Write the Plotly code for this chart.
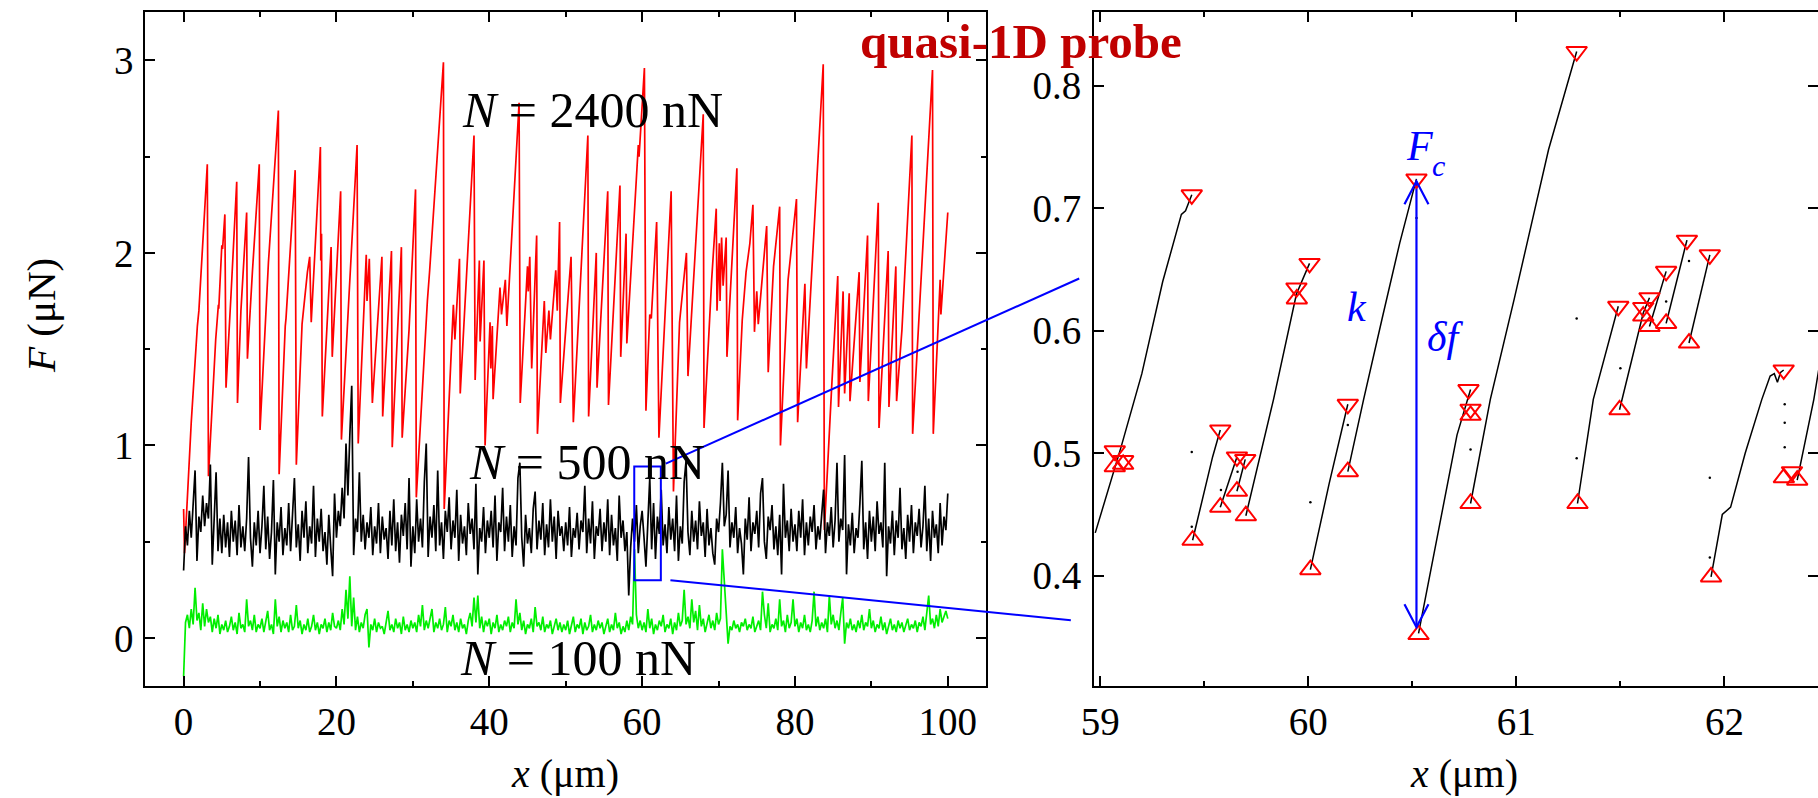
import numpy as np
import plotly.graph_objects as go

# ---------------- data ----------------
# N = 2400 nN : stick-slip sawtooth, (x [um], F [uN]) vertices
red_vertices = [
    (0.0, 0.67), (0.12, 0.44), (1.0, 1.12), (1.7, 1.60), (1.8, 1.62), (2.0, 1.70), (2.6, 2.10),
    (3.1, 2.46), (3.25, 0.84), (4.2, 1.55), (4.55, 1.73), (4.6, 1.71), (5.0, 2.04), (5.1, 2.02),
    (5.4, 2.20), (5.55, 1.30), (6.2, 1.78), (6.95, 2.37), (7.05, 1.22), (7.5, 1.70), (8.25, 2.21),
    (8.35, 1.45), (9.0, 1.90), (9.9, 2.46), (10.0, 1.08), (10.6, 1.60), (11.0, 1.89), (11.1, 1.95),
    (12.4, 2.74), (12.5, 0.85), (13.3, 1.62), (13.4, 1.66), (14.6, 2.43), (14.75, 0.90), (15.5, 1.63),
    (15.9, 1.80), (16.2, 1.90), (16.5, 1.98), (16.7, 1.64), (17.9, 2.55), (17.95, 1.96), (18.05, 2.10),
    (18.15, 1.15), (19.3, 2.03), (19.45, 1.46), (20.55, 2.32), (20.65, 1.03), (21.7, 1.82), (22.7, 2.56),
    (22.85, 1.01), (23.5, 1.65), (23.9, 1.99), (24.0, 1.75), (24.3, 1.97), (24.7, 1.22), (25.95, 1.98),
    (26.05, 1.15), (27.2, 2.01), (27.3, 0.99), (28.5, 2.03), (28.6, 1.04), (29.5, 1.60), (30.35, 2.33),
    (30.45, 0.73), (31.9, 1.75), (32.2, 1.91), (34.0, 2.99), (34.1, 0.67), (35.3, 1.73), (35.5, 1.55),
    (36.1, 1.97), (36.2, 1.27), (38.0, 2.61), (38.15, 1.34), (38.7, 1.96), (38.8, 1.54), (39.3, 1.96),
    (39.45, 1.00), (40.1, 1.64), (40.2, 1.40), (40.4, 1.62), (40.5, 1.24), (41.4, 1.82), (41.6, 1.68),
    (42.1, 1.86), (42.3, 1.62), (43.9, 2.78), (44.05, 1.22), (45.0, 1.93), (45.1, 1.80), (45.3, 1.98),
    (45.55, 1.40), (46.2, 2.09), (46.3, 1.06), (47.2, 1.75), (47.4, 1.48), (47.8, 1.70), (48.0, 1.55),
    (48.7, 1.91), (48.9, 1.70), (49.2, 2.16), (49.3, 1.22), (50.0, 1.60), (50.7, 1.98), (51.0, 1.12),
    (52.9, 2.61), (53.0, 1.15), (54.0, 2.00), (54.1, 1.30), (55.5, 2.32), (55.6, 1.21), (57.1, 2.35),
    (57.2, 1.46), (57.9, 2.10), (58.0, 1.53), (59.3, 2.39), (59.5, 2.56), (59.6, 2.50), (60.3, 2.96),
    (60.5, 1.18), (61.0, 1.68), (61.2, 1.66), (61.9, 2.16), (62.2, 1.04), (63.2, 1.86), (63.8, 2.32),
    (64.1, 0.76), (64.9, 1.64), (65.8, 2.00), (66.0, 1.36), (68.0, 2.72), (68.1, 1.09), (69.1, 1.86),
    (69.7, 2.23), (69.8, 1.70), (70.1, 2.05), (70.2, 1.75), (70.4, 2.08), (70.6, 1.83), (71.0, 2.08),
    (71.1, 1.46), (72.4, 2.44), (72.5, 1.13), (73.1, 1.65), (73.6, 1.90), (74.1, 2.05), (74.5, 2.25),
    (74.7, 1.59), (75.0, 1.80), (75.2, 1.63), (76.3, 2.14), (76.5, 1.38), (77.2, 1.93), (78.0, 2.24),
    (78.1, 1.00), (79.1, 1.86), (80.2, 2.28), (80.35, 1.12), (81.3, 1.84), (81.5, 1.40), (83.7, 2.98),
    (83.85, 0.56), (84.8, 1.30), (85.6, 1.88), (85.7, 1.20), (86.3, 1.80), (86.5, 1.27), (87.1, 1.79),
    (87.2, 1.23), (88.4, 1.90), (88.5, 1.33), (89.5, 2.09), (89.6, 1.23), (90.9, 2.26), (91.0, 1.09),
    (92.2, 2.01), (92.3, 1.20), (93.2, 1.93), (93.3, 1.23), (94.0, 1.60), (95.3, 2.61), (95.4, 1.06),
    (98.0, 2.95), (98.1, 1.06), (99.0, 1.86), (99.1, 1.68), (100.0, 2.21),
]

# N = 500 nN : F sampled every 0.25 um over 0..100 um
black_f = [
    0.35, 0.58, 0.48, 0.66, 0.52, 0.70, 0.87, 0.40, 0.63, 0.55, 0.74, 0.58, 0.70, 0.62, 0.90, 0.38, 0.66, 0.86, 0.45, 0.62,
    0.44, 0.64, 0.47, 0.60, 0.42, 0.66, 0.50, 0.61, 0.43, 0.69, 0.47, 0.58, 0.45, 0.62, 0.94, 0.52, 0.37, 0.60, 0.48, 0.66,
    0.44, 0.58, 0.79, 0.46, 0.63, 0.41, 0.55, 0.82, 0.33, 0.60, 0.50, 0.68, 0.43, 0.57, 0.48, 0.70, 0.45, 0.62, 0.83, 0.47,
    0.59, 0.40, 0.66, 0.52, 0.71, 0.44, 0.58, 0.49, 0.79, 0.42, 0.62, 0.50, 0.67, 0.45, 0.55, 0.38, 0.64, 0.47, 0.32, 0.75,
    0.52, 0.66, 0.58, 0.78, 0.62, 1.01, 0.74, 1.05, 1.31, 0.43, 0.62, 0.55, 0.86, 0.50, 0.64, 0.46, 0.60, 0.52, 0.68, 0.43,
    0.58, 0.49, 0.70, 0.44, 0.63, 0.51, 0.57, 0.41, 0.66, 0.48, 0.72, 0.45, 0.60, 0.39, 0.64, 0.53, 0.70, 0.46, 0.83, 0.37,
    0.58, 0.44, 0.72, 0.50, 0.62, 0.47, 0.81, 1.01, 0.42, 0.63, 0.52, 0.69, 0.45, 0.87, 0.48, 0.60, 0.41, 0.66, 0.55, 0.73,
    0.46, 0.61, 0.52, 0.77, 0.40, 0.64, 0.49, 0.58, 0.43, 0.70, 0.54, 0.62, 0.46, 0.80, 0.33, 0.57, 0.50, 0.68, 0.44, 0.61,
    0.52, 0.66, 0.47, 0.74, 0.40, 0.60, 0.55, 0.78, 0.45, 0.63, 0.50, 0.69, 0.42, 0.58, 0.48, 0.83, 0.91, 0.52, 0.37, 0.64,
    0.49, 0.57, 0.44, 0.67, 0.76, 0.46, 0.61, 0.51, 0.70, 0.43, 0.59, 0.47, 0.72, 0.50, 0.63, 0.41, 0.66, 0.53, 0.58, 0.45,
    0.60, 0.48, 0.68, 0.42, 0.57, 0.52, 0.65, 0.46, 0.61, 0.55, 0.79, 0.44, 0.62, 0.49, 0.71, 0.41, 0.58, 0.53, 0.67, 0.45,
    0.60, 0.50, 0.72, 0.43, 0.64, 0.48, 0.57, 0.40, 0.74, 0.52, 0.61, 0.45, 0.55, 0.22, 0.47, 0.62, 0.50, 0.69, 0.44, 0.58,
    0.66, 0.52, 0.37, 0.60, 0.83, 0.46, 0.70, 0.41, 0.63, 0.54, 0.77, 0.48, 0.59, 0.44, 0.68, 0.51, 0.62, 0.45, 0.74, 0.40,
    0.58, 0.49, 0.81, 0.92, 0.55, 0.43, 0.66, 0.50, 0.61, 0.46, 0.71, 0.53, 0.60, 0.42, 0.67, 0.48, 0.57, 0.44, 0.38, 0.62,
    0.55, 0.70, 0.91, 0.58, 0.64, 0.87, 0.47, 0.60, 0.52, 0.68, 0.44, 0.57, 0.49, 0.33, 0.62, 0.51, 0.73, 0.45, 0.60, 0.54,
    0.66, 0.47, 0.75, 0.83, 0.50, 0.41, 0.63, 0.56, 0.69, 0.46, 0.58, 0.43, 0.64, 0.33, 0.80, 0.52, 0.61, 0.45, 0.67, 0.50,
    0.59, 0.45, 0.66, 0.52, 0.72, 0.43, 0.60, 0.48, 0.63, 0.55, 0.69, 0.46, 0.58, 0.51, 0.64, 0.77, 0.44, 0.60, 0.53, 0.68,
    0.47, 0.61, 0.91, 0.50, 0.62, 0.56, 0.95, 0.33, 0.59, 0.48, 0.65, 0.44, 0.57, 0.52, 0.70, 0.92, 0.46, 0.60, 0.41, 0.66,
    0.50, 0.63, 0.45, 0.71, 0.54, 0.60, 0.47, 0.91, 0.32, 0.58, 0.49, 0.66, 0.43, 0.61, 0.52, 0.78, 0.46, 0.57, 0.41, 0.64,
    0.50, 0.69, 0.44, 0.60, 0.53, 0.67, 0.47, 0.58, 0.79, 0.45, 0.62, 0.40, 0.66, 0.52, 0.59, 0.44, 0.70, 0.48, 0.63, 0.56,
    0.75,
]

# N = 100 nN : F sampled every 0.25 um over 0..100 um
green_f = [
    -0.20, 0.08, 0.12, 0.05, 0.15, 0.07, 0.26, 0.09, 0.13, 0.04, 0.18, 0.06, 0.15, 0.08, 0.11, 0.03, 0.10, 0.05, 0.12, 0.02,
    0.07, 0.04, 0.09, 0.03, 0.06, 0.11, 0.04, 0.08, 0.02, 0.13, 0.05, 0.07, 0.03, 0.20, 0.06, 0.09, 0.04, 0.12, 0.03, 0.07,
    0.05, 0.10, 0.03, 0.08, 0.14, 0.04, 0.07, 0.02, 0.20, 0.06, 0.11, 0.03, 0.09, 0.05, 0.08, 0.03, 0.12, 0.04, 0.06, 0.17,
    0.05, 0.09, 0.02, 0.07, 0.04, 0.10, 0.03, 0.06, 0.12, 0.04, 0.08, 0.02, 0.07, 0.05, 0.10, 0.03, 0.08, 0.04, 0.13, 0.06,
    0.05, 0.09, 0.04, 0.15, 0.07, 0.25, 0.10, 0.32, 0.06, 0.21, 0.04, 0.11, 0.03, 0.08, 0.05, 0.12, 0.15, -0.05, 0.07, 0.04,
    0.10, 0.03, 0.08, 0.05, 0.06, 0.02, 0.09, 0.14, 0.04, 0.07, 0.03, 0.10, 0.05, 0.08, 0.02, 0.11, 0.04, 0.07, 0.03, 0.09,
    0.05, 0.08, 0.03, 0.12, 0.06, 0.17, 0.04, 0.09, 0.05, 0.11, 0.15, 0.03, 0.08, 0.05, 0.10, 0.04, 0.07, 0.16, 0.03, 0.09,
    0.06, 0.12, 0.04, 0.08, 0.03, 0.10, 0.05, 0.07, 0.02, 0.09, 0.13, 0.06, 0.21, 0.08, 0.22, 0.05, 0.11, 0.03, 0.09, 0.06,
    0.10, 0.02, 0.08, 0.05, 0.12, 0.03, 0.07, 0.04, 0.09, 0.06, 0.11, 0.03, 0.08, 0.05, 0.20, 0.07, 0.13, 0.04, 0.09, 0.02,
    0.07, 0.05, 0.10, 0.03, 0.16, 0.06, 0.08, 0.04, 0.11, 0.03, 0.07, 0.05, 0.09, 0.02, 0.06, 0.10, 0.04, 0.08, 0.03, 0.07,
    0.04, 0.09, 0.02, 0.06, 0.11, 0.03, 0.07, 0.05, 0.10, 0.02, 0.08, 0.04, 0.06, 0.12, 0.03, 0.07, 0.04, 0.09, 0.05, 0.08,
    0.02, 0.06, 0.10, 0.03, 0.07, 0.04, 0.13, 0.05, 0.08, 0.02, 0.06, 0.03, 0.09, 0.04, 0.11, 0.07, 0.46, 0.12, 0.05, 0.09,
    0.04, 0.08, 0.03, 0.15, 0.05, 0.10, 0.02, 0.07, 0.04, 0.09, 0.06, 0.12, 0.03, 0.07, 0.05, 0.10, 0.02, 0.08, 0.04, 0.13,
    0.06, 0.09, 0.25, 0.07, 0.11, 0.05, 0.20, 0.08, 0.14, 0.04, 0.17, 0.06, 0.10, 0.03, 0.08, 0.12, 0.05, 0.09, 0.04, 0.13,
    0.07, 0.10, 0.46, 0.29, 0.08, -0.03, 0.06, 0.04, 0.09, 0.05, 0.07, 0.03, 0.08, 0.06, 0.10, 0.04, 0.07, 0.05, 0.11, 0.03,
    0.06, 0.09, 0.04, 0.24, 0.12, 0.05, 0.18, 0.03, 0.07, 0.05, 0.10, 0.04, 0.20, 0.06, 0.09, 0.03, 0.12, 0.05, 0.08, 0.20,
    0.06, 0.10, 0.03, 0.08, 0.05, 0.12, 0.04, 0.07, 0.03, 0.09, 0.24, 0.06, 0.11, 0.04, 0.08, 0.05, 0.10, 0.03, 0.22, 0.07,
    0.12, 0.05, 0.09, 0.04, 0.13, 0.21, -0.03, 0.08, 0.05, 0.10, 0.04, 0.07, 0.03, 0.09, 0.05, 0.12, 0.04, 0.08, 0.06, 0.15,
    0.05, 0.09, 0.03, 0.07, 0.05, 0.11, 0.04, 0.08, 0.02, 0.06, 0.10, 0.04, 0.07, 0.03, 0.09, 0.05, 0.08, 0.03, 0.06, 0.10,
    0.04, 0.07, 0.05, 0.09, 0.03, 0.08, 0.06, 0.11, 0.04, 0.13, 0.22, 0.07, 0.10, 0.05, 0.12, 0.06, 0.15, 0.08, 0.11, 0.14,
    0.10,
]

# quasi-1D probe, zoomed window: loading branches between slip events
stick_branches = [
    [(58.976, 0.435), (59.1, 0.505), (59.2, 0.565), (59.3, 0.64), (59.39, 0.695), (59.41, 0.698), (59.44, 0.711)],
    [(59.444, 0.429), (59.49, 0.462), (59.54, 0.497), (59.577, 0.519)],
    [(59.577, 0.456), (59.657, 0.497)],
    [(59.657, 0.469), (59.697, 0.495)],
    [(59.70, 0.449), (59.833, 0.544), (59.943, 0.630), (60.006, 0.655)],
    [(60.01, 0.405), (60.1, 0.475), (60.19, 0.54)],
    [(60.19, 0.485), (60.266, 0.544), (60.355, 0.61), (60.44, 0.672), (60.52, 0.724)],
    [(60.53, 0.353), (60.635, 0.445), (60.715, 0.515), (60.78, 0.552)],
    [(60.78, 0.459), (60.875, 0.544), (60.99, 0.626), (61.155, 0.748), (61.29, 0.828)],
    [(61.294, 0.459), (61.37, 0.544), (61.49, 0.62)],
    [(61.496, 0.5355), (61.61, 0.6145), (61.64, 0.627)],
    [(61.64, 0.6035), (61.72, 0.6485)],
    [(61.72, 0.606), (61.82, 0.674)],
    [(61.83, 0.59), (61.93, 0.662)],
    [(61.936, 0.399), (61.99, 0.45), (62.03, 0.456), (62.1, 0.50), (62.18, 0.544), (62.22, 0.563),
     (62.24, 0.565), (62.255, 0.558), (62.27, 0.566), (62.285, 0.568)],
    [(62.35, 0.478), (62.43, 0.544), (62.46, 0.575)],
]
# isolated samples recorded during slips
slip_points = [
    (59.44, 0.501), (59.44, 0.44), (59.58, 0.47), (59.66, 0.485), (60.01, 0.46), (60.19, 0.523),
    (60.52, 0.692), (60.78, 0.503), (61.29, 0.496), (61.29, 0.61), (61.5, 0.5695), (61.72, 0.624),
    (61.83, 0.657), (61.93, 0.48), (61.93, 0.415), (62.29, 0.54), (62.29, 0.525), (62.29, 0.505),
]
# detected force maxima (slip onset) and minima (re-stick)
force_maxima = [
    (59.07, 0.502), (59.11, 0.494), (59.44, 0.711), (59.577, 0.519), (59.657, 0.497), (59.697, 0.495),
    (59.943, 0.635), (60.006, 0.655), (60.19, 0.54), (60.52, 0.724), (60.77, 0.552), (60.78, 0.536),
    (61.29, 0.828), (61.49, 0.62), (61.61, 0.619), (61.64, 0.627), (61.72, 0.6485), (61.82, 0.674),
    (61.93, 0.662), (62.285, 0.568), (62.325, 0.485),
]
force_minima = [
    (59.07, 0.489), (59.11, 0.491), (59.444, 0.429), (59.577, 0.456), (59.657, 0.469), (59.70, 0.449),
    (59.945, 0.626), (60.01, 0.405), (60.19, 0.485), (60.53, 0.352), (60.78, 0.531), (60.78, 0.459),
    (61.294, 0.459), (61.496, 0.5355), (61.61, 0.612), (61.64, 0.6035), (61.72, 0.606), (61.83, 0.59),
    (61.936, 0.399), (62.286, 0.48), (62.35, 0.478),
]

# drop highlighted with the delta-f arrow
drop_x = 60.52
drop_top = 0.722       # F_c
drop_bottom = 0.358

# zoom window drawn in the left panel and the range of the right panel
window_x = (58.97, 62.45)
window_box_y = (0.30, 0.89)
window_y = (0.31, 0.86)
# connector lines (left-panel data coordinates)
connector_upper = ((63.1, 0.905), (117.2, 1.867))
connector_lower = ((63.7, 0.30), (116.1, 0.092))

# ---------------- styling ----------------
W, H = 1818, 798
LEFT_XDOM = (145.4 / W, 986 / W)
RIGHT_XDOM = (1094 / W, 1.0)
YDOM = (1 - 686 / H, 1 - 12.3 / H)
LEFT_XRANGE = (-5, 105)
LEFT_YRANGE = (-0.25, 3.25)

SERIF = "Liberation Serif"
BLUE = "#0000ff"
RED = "#ff0000"
GREEN = "#00ee00"


def left_to_paper(x, y):
    px = LEFT_XDOM[0] + (x - LEFT_XRANGE[0]) / (LEFT_XRANGE[1] - LEFT_XRANGE[0]) * (LEFT_XDOM[1] - LEFT_XDOM[0])
    py = YDOM[0] + (y - LEFT_YRANGE[0]) / (LEFT_YRANGE[1] - LEFT_YRANGE[0]) * (YDOM[1] - YDOM[0])
    return px, py


def join_segments(segs):
    xs, ys = [], []
    for seg in segs:
        xs += [p[0] for p in seg] + [None]
        ys += [p[1] for p in seg] + [None]
    return xs, ys


fig = go.Figure()

red_x = [p[0] for p in red_vertices]
red_y = [p[1] for p in red_vertices]
black_x = np.linspace(0, 100, len(black_f))
green_x = np.linspace(0, 100, len(green_f))

fig.add_trace(go.Scatter(x=red_x, y=red_y, mode="lines", line=dict(color=RED, width=1.7),
                         xaxis="x", yaxis="y"))
fig.add_trace(go.Scatter(x=black_x, y=black_f, mode="lines", line=dict(color="black", width=1.7),
                         xaxis="x", yaxis="y"))
fig.add_trace(go.Scatter(x=green_x, y=green_f, mode="lines", line=dict(color=GREEN, width=1.7),
                         xaxis="x", yaxis="y"))

sx, sy = join_segments(stick_branches)
fig.add_trace(go.Scatter(x=sx, y=sy, mode="lines", line=dict(color="black", width=1.5),
                         xaxis="x2", yaxis="y2"))
fig.add_trace(go.Scatter(x=[p[0] for p in slip_points], y=[p[1] for p in slip_points], mode="markers",
                         marker=dict(color="black", size=2.5), xaxis="x2", yaxis="y2"))
fig.add_trace(go.Scatter(x=[drop_x, drop_x], y=[drop_bottom, drop_top], mode="lines",
                         line=dict(color=BLUE, width=2.2), xaxis="x2", yaxis="y2"))
fig.add_trace(go.Scatter(x=[p[0] for p in force_maxima], y=[p[1] for p in force_maxima], mode="markers",
                         marker=dict(symbol="triangle-down-open", size=18, color=RED, line=dict(width=2, color=RED)),
                         xaxis="x2", yaxis="y2"))
fig.add_trace(go.Scatter(x=[p[0] for p in force_minima], y=[p[1] for p in force_minima], mode="markers",
                         marker=dict(symbol="triangle-up-open", size=18, color=RED, line=dict(width=2, color=RED)),
                         xaxis="x2", yaxis="y2"))

# open arrow heads on the delta-f arrow
for y_tip, sgn in ((drop_top, -1), (drop_bottom, 1)):
    fig.add_shape(type="path", xref="x2", yref="y2", xsizemode="pixel", ysizemode="pixel",
                  xanchor=drop_x, yanchor=y_tip,
                  path=f"M-12,{sgn * 23} L0,0 L12,{sgn * 23}",
                  line=dict(color=BLUE, width=2.2))

# zoom window box and connectors
fig.add_shape(type="rect", xref="x", yref="y", x0=window_x[0], x1=window_x[1],
              y0=window_box_y[0], y1=window_box_y[1], line=dict(color=BLUE, width=2))
for (p0, p1) in (connector_upper, connector_lower):
    a = left_to_paper(*p0)
    b = left_to_paper(*p1)
    fig.add_shape(type="line", xref="paper", yref="paper", x0=a[0], y0=a[1], x1=b[0], y1=b[1],
                  line=dict(color=BLUE, width=2))

tickfont = dict(family=SERIF, size=39, color="black")
axis_style = dict(showline=True, linecolor="black", linewidth=2, mirror="ticks", ticks="inside",
                  tickcolor="black", tickwidth=1.5, ticklen=10, showgrid=False, zeroline=False,
                  automargin=False, tickfont=tickfont)
minor_style = dict(ticks="inside", ticklen=5, tickcolor="black", tickwidth=1.5, showgrid=False)

fig.update_layout(
    width=W, height=H, margin=dict(l=0, r=0, t=0, b=0, pad=0, autoexpand=False),
    paper_bgcolor="white", plot_bgcolor="white", showlegend=False,
    xaxis=dict(domain=list(LEFT_XDOM), range=list(LEFT_XRANGE), tick0=0, dtick=20,
               minor=dict(dtick=10, **minor_style), anchor="y", **axis_style),
    yaxis=dict(domain=list(YDOM), range=list(LEFT_YRANGE), tick0=0, dtick=1, ticklabelstandoff=2,
               minor=dict(dtick=0.5, **minor_style), anchor="x", **axis_style),
    xaxis2=dict(domain=list(RIGHT_XDOM), range=list(window_x), tick0=59, dtick=1,
                minor=dict(dtick=0.5, **minor_style), anchor="y2", **axis_style),
    yaxis2=dict(domain=list(YDOM), range=list(window_y), tick0=0, dtick=0.1, tickformat=".1f",
                ticklabelstandoff=3, anchor="x2", **axis_style),
)

labels = [
    # panel texts in data coordinates
    dict(text="<i>N</i> = 2400 nN", x=53.5, y=2.74, xref="x", yref="y", size=50, color="black"),
    dict(text="<i>N</i> = 500 nN", x=52.8, y=0.913, xref="x", yref="y", size=50, color="black"),
    dict(text="<i>N</i> = 100 nN", x=51.6, y=-0.105, xref="x", yref="y", size=50, color="black"),
    dict(text="<i>F</i>", x=60.534, y=0.751, xref="x2", yref="y2", size=42, color=BLUE),
    dict(text="<i>c</i>", x=60.628, y=0.735, xref="x2", yref="y2", size=30, color=BLUE),
    dict(text="<i>k</i>", x=60.236, y=0.619, xref="x2", yref="y2", size=42, color=BLUE),
    dict(text="<i>δf</i>", x=60.66, y=0.595, xref="x2", yref="y2", size=42, color=BLUE),
    # axis titles and heading in paper coordinates
    dict(text="<i>x</i> (μm)", x=565 / W, y=1 - 773 / H, xref="paper", yref="paper", size=40, color="black"),
    dict(text="<i>x</i> (μm)", x=1464 / W, y=1 - 773 / H, xref="paper", yref="paper", size=40, color="black"),
    dict(text="<i>F</i> (μN)", x=41 / W, y=1 - 316 / H, xref="paper", yref="paper", size=41, color="black",
         angle=-90),
    dict(text="<b>quasi-1D probe</b>", x=1021 / W, y=1 - 42 / H, xref="paper", yref="paper", size=49,
         color="#c00000"),
]
for lab in labels:
    fig.add_annotation(text=lab["text"], x=lab["x"], y=lab["y"], xref=lab["xref"], yref=lab["yref"],
                       showarrow=False, xanchor="center", yanchor="middle",
                       textangle=lab.get("angle", 0),
                       font=dict(family=SERIF, size=lab["size"], color=lab["color"]))

fig.write_html("out.html")
